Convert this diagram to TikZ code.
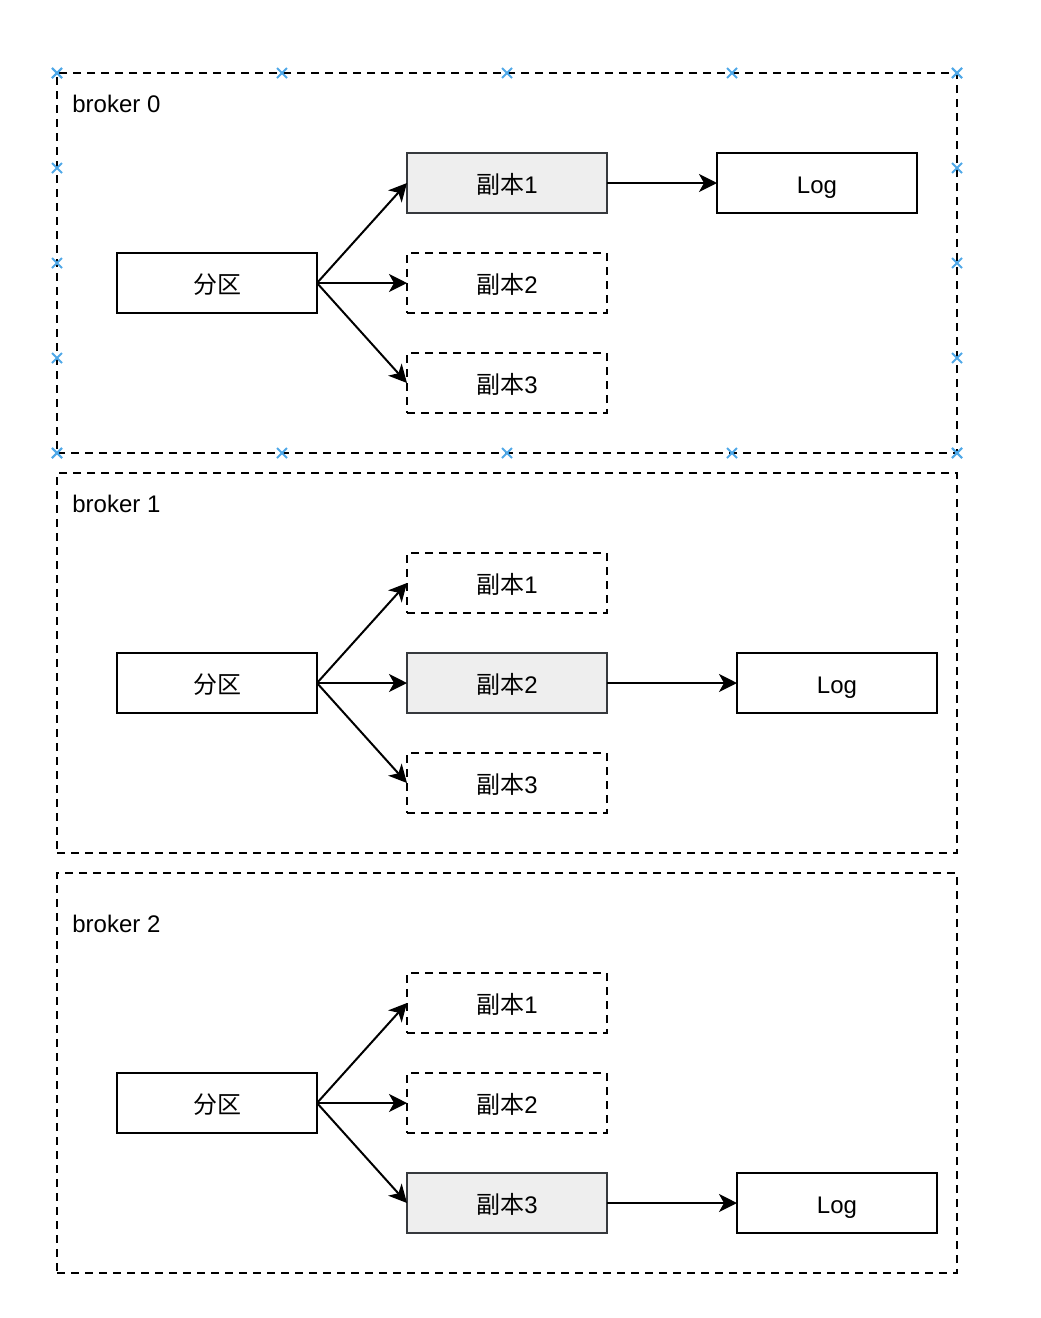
\documentclass[tikz,border=0pt]{standalone}
\usepackage{fontspec}
\setmainfont{Liberation Sans}
\newfontfamily\cjk{Noto Sans CJK SC}
\usetikzlibrary{arrows.meta,positioning,calc}
\definecolor{repfill}{HTML}{EEEEEE}
\definecolor{repline}{HTML}{36393D}
\definecolor{handle}{HTML}{4FA8E8}

\begin{document}
\begin{tikzpicture}[
  x=0.5pt, y=-0.5pt,
  font=\fontsize{12}{14}\selectfont,
  box/.style={draw, line width=1pt, minimum width=100pt, minimum height=30pt,
              inner sep=0pt, outer sep=0pt, text height=11pt, text depth=1pt},
  ghost/.style={box, dash pattern=on 4pt off 3pt},
  leader/.style={box, draw=repline, fill=repfill},
  broker/.style={draw, line width=0.75pt, dash pattern=on 4pt off 3pt,
                 minimum width=450pt, inner sep=0pt, outer sep=0pt},
  tag/.style={anchor=west, inner sep=0pt},
  arr/.style={-{Stealth[length=9pt, width=9pt, inset=2.5pt]}, line width=1pt},
  handlemark/.style={handle, line width=1pt},
  node distance=20pt and 45pt,
]
\useasboundingbox (0,0) rectangle (1040,1318);

% broker 0
\node[broker, minimum height=190pt] (b0) at (507,263) {};
\node[tag] (b0tag) at (72,104) {broker 0};
\node[box] (part0) at (217,283) {\cjk 分区};
\node[ghost, right=of part0] (rep02) {{\cjk 副本}2};
\node[leader, above=of rep02] (rep01) {{\cjk 副本}1};
\node[ghost, below=of rep02] (rep03) {{\cjk 副本}3};
\node[box, right=55pt of rep01] (log0) {Log};
\draw[arr] (part0.east) -- (rep01.west);
\draw[arr] (part0.east) -- (rep02.west);
\draw[arr] (part0.east) -- (rep03.west);
\draw[arr] (rep01) -- (log0);

% selection handles on broker 0
\foreach \f in {0,0.25,0.5,0.75,1} {
  \foreach \a/\b in {north west/north east, south west/south east,
                     north west/south west, north east/south east}
    \draw[handlemark] ($(b0.\a)!\f!(b0.\b)$) +(-2.5pt,-2.5pt) -- +(2.5pt,2.5pt)
                                             +(-2.5pt,2.5pt) -- +(2.5pt,-2.5pt);
}

% broker 1
\node[broker, minimum height=190pt] (b1) at (507,663) {};
\node[tag] (b1tag) at (72,504) {broker 1};
\node[box] (part1) at (217,683) {\cjk 分区};
\node[leader, right=of part1] (rep12) {{\cjk 副本}2};
\node[ghost, above=of rep12] (rep11) {{\cjk 副本}1};
\node[ghost, below=of rep12] (rep13) {{\cjk 副本}3};
\node[box, right=65pt of rep12] (log1) {Log};
\draw[arr] (part1.east) -- (rep11.west);
\draw[arr] (part1.east) -- (rep12.west);
\draw[arr] (part1.east) -- (rep13.west);
\draw[arr] (rep12) -- (log1);

% broker 2
\node[broker, minimum height=200pt] (b2) at (507,1073) {};
\node[tag] (b2tag) at (72,924) {broker 2};
\node[box] (part2) at (217,1103) {\cjk 分区};
\node[ghost, right=of part2] (rep22) {{\cjk 副本}2};
\node[ghost, above=of rep22] (rep21) {{\cjk 副本}1};
\node[leader, below=of rep22] (rep23) {{\cjk 副本}3};
\node[box, right=65pt of rep23] (log2) {Log};
\draw[arr] (part2.east) -- (rep21.west);
\draw[arr] (part2.east) -- (rep22.west);
\draw[arr] (part2.east) -- (rep23.west);
\draw[arr] (rep23) -- (log2);
\end{tikzpicture}
\end{document}
